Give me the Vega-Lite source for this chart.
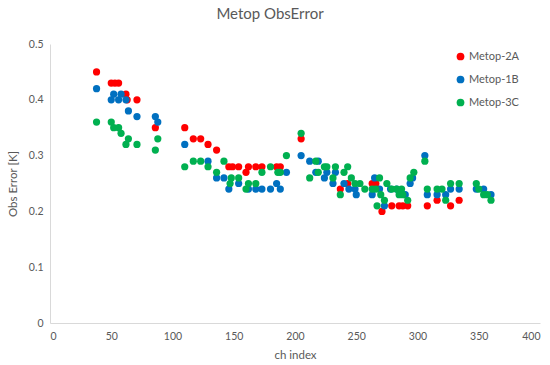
{
  "$schema": "https://vega.github.io/schema/vega-lite/v6.json",
  "width": 490,
  "height": 279,
  "autosize": {"type": "none"},
  "padding": {"left": 50, "top": 44, "right": 10, "bottom": 42},
  "background": "white",
  "config": {
    "font": "Lato",
    "view": {"stroke": null},
    "axis": {"grid": false, "ticks": false, "domainColor": "#d9d9d9", "labelColor": "#595959", "titleColor": "#595959", "labelFontSize": 10.5, "titleFontSize": 11.5, "titleFontWeight": "normal", "labelFont": "Lato", "titleFont": "Lato"}
  },
  "title": {"text": "Metop ObsError", "fontSize": 15, "fontWeight": "normal", "color": "#595959", "font": "Lato", "anchor": "middle", "offset": 17, "dx": -25},
  "data": {"values": [
    {"ch": 38, "err": 0.45, "s": "Metop-2A"},
    {"ch": 50, "err": 0.43, "s": "Metop-2A"},
    {"ch": 53, "err": 0.43, "s": "Metop-2A"},
    {"ch": 56, "err": 0.43, "s": "Metop-2A"},
    {"ch": 62, "err": 0.41, "s": "Metop-2A"},
    {"ch": 63, "err": 0.40, "s": "Metop-2A"},
    {"ch": 71, "err": 0.40, "s": "Metop-2A"},
    {"ch": 86, "err": 0.35, "s": "Metop-2A"},
    {"ch": 110, "err": 0.35, "s": "Metop-2A"},
    {"ch": 117, "err": 0.33, "s": "Metop-2A"},
    {"ch": 123, "err": 0.33, "s": "Metop-2A"},
    {"ch": 129, "err": 0.32, "s": "Metop-2A"},
    {"ch": 136, "err": 0.31, "s": "Metop-2A"},
    {"ch": 146, "err": 0.28, "s": "Metop-2A"},
    {"ch": 149, "err": 0.28, "s": "Metop-2A"},
    {"ch": 154, "err": 0.28, "s": "Metop-2A"},
    {"ch": 160, "err": 0.27, "s": "Metop-2A"},
    {"ch": 162, "err": 0.28, "s": "Metop-2A"},
    {"ch": 168, "err": 0.28, "s": "Metop-2A"},
    {"ch": 173, "err": 0.28, "s": "Metop-2A"},
    {"ch": 185, "err": 0.28, "s": "Metop-2A"},
    {"ch": 188, "err": 0.28, "s": "Metop-2A"},
    {"ch": 205, "err": 0.33, "s": "Metop-2A"},
    {"ch": 237, "err": 0.24, "s": "Metop-2A"},
    {"ch": 243, "err": 0.25, "s": "Metop-2A"},
    {"ch": 263, "err": 0.25, "s": "Metop-2A"},
    {"ch": 266, "err": 0.25, "s": "Metop-2A"},
    {"ch": 271, "err": 0.20, "s": "Metop-2A"},
    {"ch": 279, "err": 0.21, "s": "Metop-2A"},
    {"ch": 285, "err": 0.21, "s": "Metop-2A"},
    {"ch": 288, "err": 0.21, "s": "Metop-2A"},
    {"ch": 292, "err": 0.21, "s": "Metop-2A"},
    {"ch": 308, "err": 0.21, "s": "Metop-2A"},
    {"ch": 316, "err": 0.22, "s": "Metop-2A"},
    {"ch": 327, "err": 0.21, "s": "Metop-2A"},
    {"ch": 334, "err": 0.22, "s": "Metop-2A"},
    {"ch": 38, "err": 0.42, "s": "Metop-1B"},
    {"ch": 50, "err": 0.40, "s": "Metop-1B"},
    {"ch": 52, "err": 0.41, "s": "Metop-1B"},
    {"ch": 56, "err": 0.40, "s": "Metop-1B"},
    {"ch": 58, "err": 0.41, "s": "Metop-1B"},
    {"ch": 62, "err": 0.40, "s": "Metop-1B"},
    {"ch": 64, "err": 0.38, "s": "Metop-1B"},
    {"ch": 71, "err": 0.37, "s": "Metop-1B"},
    {"ch": 86, "err": 0.37, "s": "Metop-1B"},
    {"ch": 88, "err": 0.36, "s": "Metop-1B"},
    {"ch": 110, "err": 0.32, "s": "Metop-1B"},
    {"ch": 129, "err": 0.29, "s": "Metop-1B"},
    {"ch": 136, "err": 0.26, "s": "Metop-1B"},
    {"ch": 142, "err": 0.26, "s": "Metop-1B"},
    {"ch": 146, "err": 0.24, "s": "Metop-1B"},
    {"ch": 154, "err": 0.25, "s": "Metop-1B"},
    {"ch": 162, "err": 0.24, "s": "Metop-1B"},
    {"ch": 168, "err": 0.24, "s": "Metop-1B"},
    {"ch": 173, "err": 0.24, "s": "Metop-1B"},
    {"ch": 180, "err": 0.24, "s": "Metop-1B"},
    {"ch": 185, "err": 0.25, "s": "Metop-1B"},
    {"ch": 188, "err": 0.24, "s": "Metop-1B"},
    {"ch": 193, "err": 0.27, "s": "Metop-1B"},
    {"ch": 205, "err": 0.30, "s": "Metop-1B"},
    {"ch": 212, "err": 0.29, "s": "Metop-1B"},
    {"ch": 219, "err": 0.29, "s": "Metop-1B"},
    {"ch": 217, "err": 0.27, "s": "Metop-1B"},
    {"ch": 224, "err": 0.26, "s": "Metop-1B"},
    {"ch": 226, "err": 0.27, "s": "Metop-1B"},
    {"ch": 231, "err": 0.25, "s": "Metop-1B"},
    {"ch": 233, "err": 0.27, "s": "Metop-1B"},
    {"ch": 240, "err": 0.25, "s": "Metop-1B"},
    {"ch": 244, "err": 0.24, "s": "Metop-1B"},
    {"ch": 249, "err": 0.24, "s": "Metop-1B"},
    {"ch": 250, "err": 0.23, "s": "Metop-1B"},
    {"ch": 265, "err": 0.26, "s": "Metop-1B"},
    {"ch": 263, "err": 0.23, "s": "Metop-1B"},
    {"ch": 269, "err": 0.24, "s": "Metop-1B"},
    {"ch": 273, "err": 0.21, "s": "Metop-1B"},
    {"ch": 278, "err": 0.24, "s": "Metop-1B"},
    {"ch": 283, "err": 0.24, "s": "Metop-1B"},
    {"ch": 290, "err": 0.23, "s": "Metop-1B"},
    {"ch": 294, "err": 0.25, "s": "Metop-1B"},
    {"ch": 296, "err": 0.26, "s": "Metop-1B"},
    {"ch": 306, "err": 0.30, "s": "Metop-1B"},
    {"ch": 308, "err": 0.23, "s": "Metop-1B"},
    {"ch": 316, "err": 0.23, "s": "Metop-1B"},
    {"ch": 323, "err": 0.23, "s": "Metop-1B"},
    {"ch": 327, "err": 0.24, "s": "Metop-1B"},
    {"ch": 334, "err": 0.24, "s": "Metop-1B"},
    {"ch": 348, "err": 0.24, "s": "Metop-1B"},
    {"ch": 354, "err": 0.24, "s": "Metop-1B"},
    {"ch": 360, "err": 0.23, "s": "Metop-1B"},
    {"ch": 38, "err": 0.36, "s": "Metop-3C"},
    {"ch": 50, "err": 0.36, "s": "Metop-3C"},
    {"ch": 52, "err": 0.35, "s": "Metop-3C"},
    {"ch": 56, "err": 0.35, "s": "Metop-3C"},
    {"ch": 58, "err": 0.34, "s": "Metop-3C"},
    {"ch": 62, "err": 0.32, "s": "Metop-3C"},
    {"ch": 64, "err": 0.33, "s": "Metop-3C"},
    {"ch": 71, "err": 0.32, "s": "Metop-3C"},
    {"ch": 86, "err": 0.31, "s": "Metop-3C"},
    {"ch": 88, "err": 0.33, "s": "Metop-3C"},
    {"ch": 110, "err": 0.28, "s": "Metop-3C"},
    {"ch": 117, "err": 0.29, "s": "Metop-3C"},
    {"ch": 123, "err": 0.29, "s": "Metop-3C"},
    {"ch": 129, "err": 0.28, "s": "Metop-3C"},
    {"ch": 136, "err": 0.27, "s": "Metop-3C"},
    {"ch": 142, "err": 0.29, "s": "Metop-3C"},
    {"ch": 147, "err": 0.25, "s": "Metop-3C"},
    {"ch": 148, "err": 0.26, "s": "Metop-3C"},
    {"ch": 154, "err": 0.26, "s": "Metop-3C"},
    {"ch": 160, "err": 0.24, "s": "Metop-3C"},
    {"ch": 162, "err": 0.25, "s": "Metop-3C"},
    {"ch": 168, "err": 0.25, "s": "Metop-3C"},
    {"ch": 173, "err": 0.27, "s": "Metop-3C"},
    {"ch": 180, "err": 0.28, "s": "Metop-3C"},
    {"ch": 186, "err": 0.27, "s": "Metop-3C"},
    {"ch": 188, "err": 0.27, "s": "Metop-3C"},
    {"ch": 193, "err": 0.30, "s": "Metop-3C"},
    {"ch": 205, "err": 0.34, "s": "Metop-3C"},
    {"ch": 212, "err": 0.26, "s": "Metop-3C"},
    {"ch": 217, "err": 0.29, "s": "Metop-3C"},
    {"ch": 219, "err": 0.27, "s": "Metop-3C"},
    {"ch": 224, "err": 0.28, "s": "Metop-3C"},
    {"ch": 226, "err": 0.28, "s": "Metop-3C"},
    {"ch": 231, "err": 0.26, "s": "Metop-3C"},
    {"ch": 233, "err": 0.28, "s": "Metop-3C"},
    {"ch": 237, "err": 0.23, "s": "Metop-3C"},
    {"ch": 240, "err": 0.27, "s": "Metop-3C"},
    {"ch": 243, "err": 0.28, "s": "Metop-3C"},
    {"ch": 246, "err": 0.26, "s": "Metop-3C"},
    {"ch": 249, "err": 0.25, "s": "Metop-3C"},
    {"ch": 253, "err": 0.25, "s": "Metop-3C"},
    {"ch": 257, "err": 0.24, "s": "Metop-3C"},
    {"ch": 263, "err": 0.24, "s": "Metop-3C"},
    {"ch": 266, "err": 0.24, "s": "Metop-3C"},
    {"ch": 267, "err": 0.21, "s": "Metop-3C"},
    {"ch": 269, "err": 0.26, "s": "Metop-3C"},
    {"ch": 270, "err": 0.23, "s": "Metop-3C"},
    {"ch": 273, "err": 0.22, "s": "Metop-3C"},
    {"ch": 275, "err": 0.25, "s": "Metop-3C"},
    {"ch": 279, "err": 0.24, "s": "Metop-3C"},
    {"ch": 283, "err": 0.24, "s": "Metop-3C"},
    {"ch": 285, "err": 0.23, "s": "Metop-3C"},
    {"ch": 287, "err": 0.24, "s": "Metop-3C"},
    {"ch": 288, "err": 0.23, "s": "Metop-3C"},
    {"ch": 292, "err": 0.22, "s": "Metop-3C"},
    {"ch": 294, "err": 0.26, "s": "Metop-3C"},
    {"ch": 297, "err": 0.27, "s": "Metop-3C"},
    {"ch": 306, "err": 0.29, "s": "Metop-3C"},
    {"ch": 308, "err": 0.24, "s": "Metop-3C"},
    {"ch": 316, "err": 0.24, "s": "Metop-3C"},
    {"ch": 320, "err": 0.24, "s": "Metop-3C"},
    {"ch": 323, "err": 0.22, "s": "Metop-3C"},
    {"ch": 327, "err": 0.25, "s": "Metop-3C"},
    {"ch": 334, "err": 0.25, "s": "Metop-3C"},
    {"ch": 348, "err": 0.25, "s": "Metop-3C"},
    {"ch": 350, "err": 0.24, "s": "Metop-3C"},
    {"ch": 354, "err": 0.23, "s": "Metop-3C"},
    {"ch": 357, "err": 0.23, "s": "Metop-3C"},
    {"ch": 360, "err": 0.22, "s": "Metop-3C"}
  ]},
  "mark": {"type": "point", "filled": true, "opacity": 1, "size": 52},
  "encoding": {
    "x": {"field": "ch", "type": "quantitative", "title": "ch index",
      "scale": {"domain": [0, 400], "nice": false},
      "axis": {"values": [0, 50, 100, 150, 200, 250, 300, 350, 400], "labelPadding": 8, "titlePadding": 8}},
    "y": {"field": "err", "type": "quantitative", "title": "Obs Error [K]",
      "scale": {"domain": [0, 0.5], "nice": false},
      "axis": {"values": [0, 0.1, 0.2, 0.3, 0.4, 0.5], "format": "~g", "labelPadding": 7, "titlePadding": 10}},
    "color": {"field": "s", "type": "nominal",
      "scale": {"domain": ["Metop-2A", "Metop-1B", "Metop-3C"], "range": ["#FF0000", "#0070C0", "#00B050"]},
      "legend": {"title": null, "orient": "none", "legendX": 405, "legendY": 7, "labelFontSize": 11, "labelColor": "#595959", "labelFont": "Lato", "symbolSize": 60, "rowPadding": 11, "symbolType": "circle", "labelOffset": 3}}
  }
}
